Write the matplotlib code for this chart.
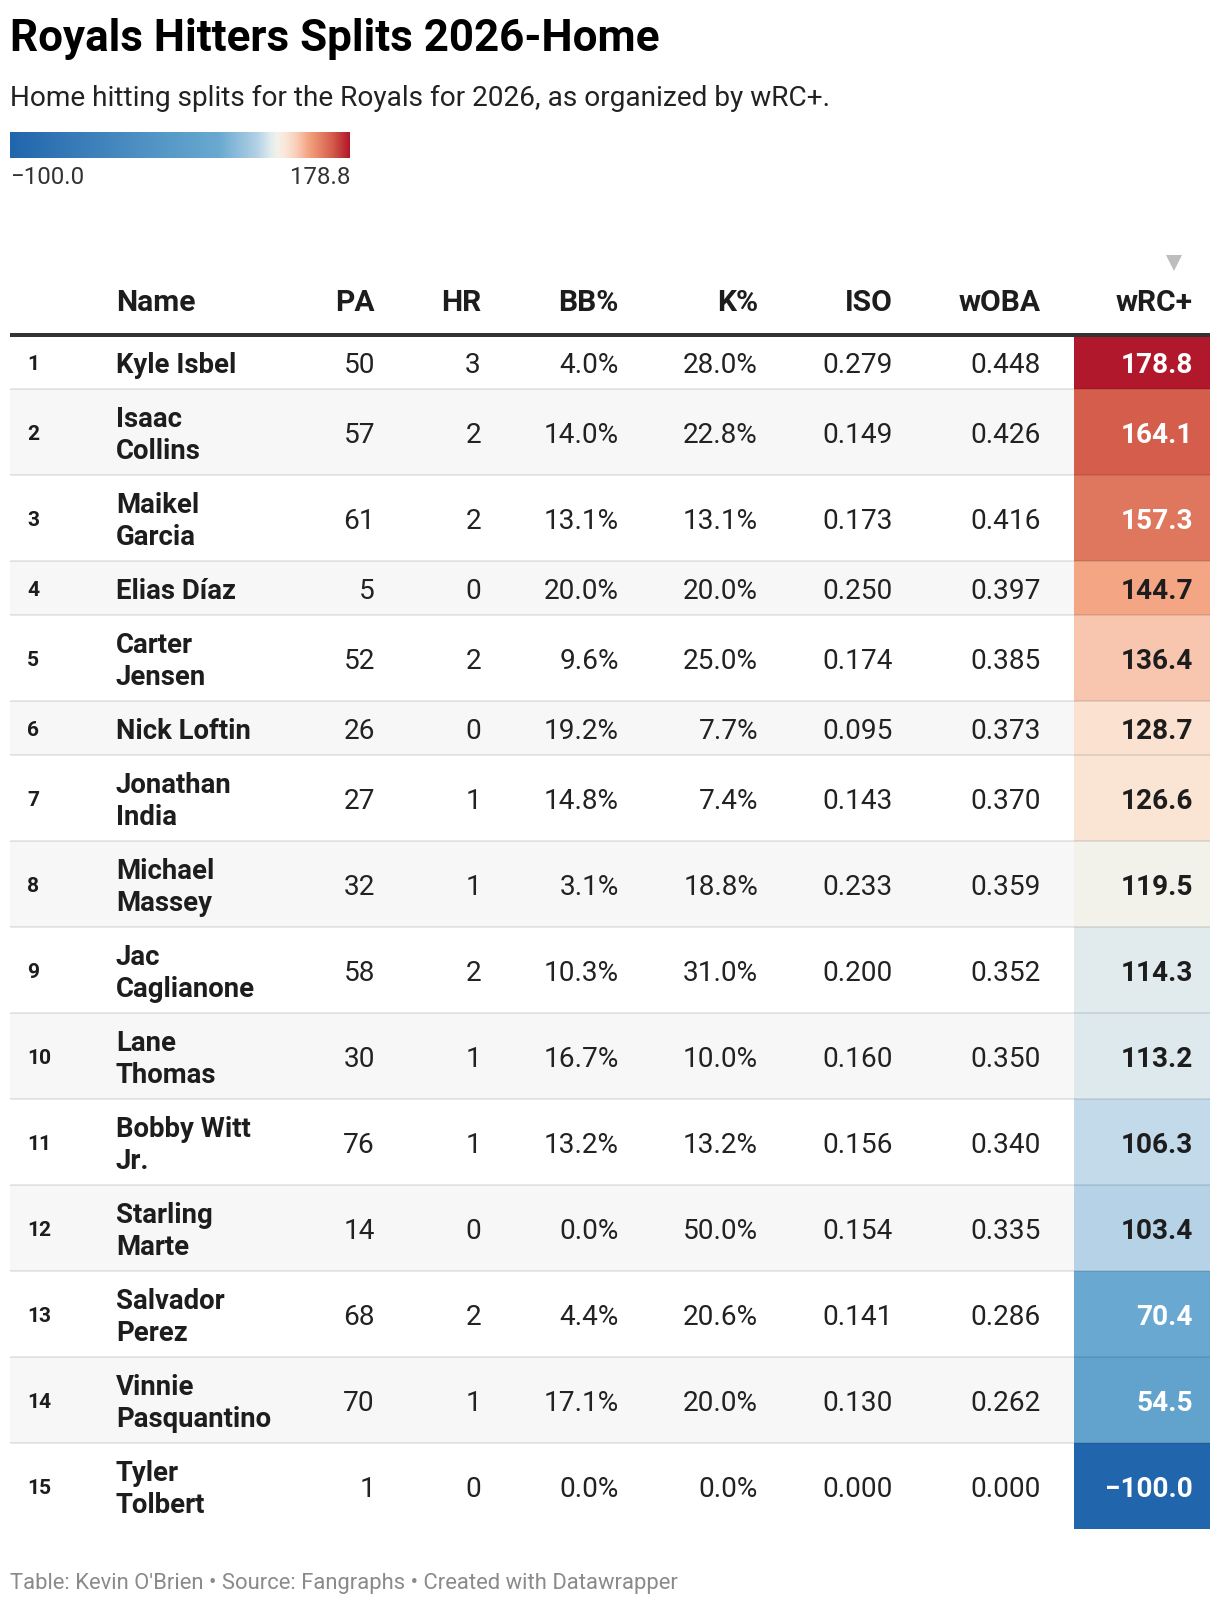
import numpy as np
import matplotlib
matplotlib.use("Agg")
import matplotlib.pyplot as plt
from matplotlib.colors import LinearSegmentedColormap, Normalize, to_rgb

plt.rcParams['font.family'] = ['Roboto', 'DejaVu Sans']

# ---- data ----
names = ["Kyle Isbel", "Isaac\nCollins", "Maikel\nGarcia", "Elias Díaz", "Carter\nJensen",
         "Nick Loftin", "Jonathan\nIndia", "Michael\nMassey", "Jac\nCaglianone", "Lane\nThomas",
         "Bobby Witt\nJr.", "Starling\nMarte", "Salvador\nPerez", "Vinnie\nPasquantino", "Tyler\nTolbert"]
pa = [50, 57, 61, 5, 52, 26, 27, 32, 58, 30, 76, 14, 68, 70, 1]
hr = [3, 2, 2, 0, 2, 0, 1, 1, 2, 1, 1, 0, 2, 1, 0]
bb_pct = [4.0, 14.0, 13.1, 20.0, 9.6, 19.2, 14.8, 3.1, 10.3, 16.7, 13.2, 0.0, 4.4, 17.1, 0.0]
k_pct = [28.0, 22.8, 13.1, 20.0, 25.0, 7.7, 7.4, 18.8, 31.0, 10.0, 13.2, 50.0, 20.6, 20.0, 0.0]
iso = [0.279, 0.149, 0.173, 0.250, 0.174, 0.095, 0.143, 0.233, 0.200, 0.160, 0.156, 0.154, 0.141, 0.130, 0.000]
woba = [0.448, 0.426, 0.416, 0.397, 0.385, 0.373, 0.370, 0.359, 0.352, 0.350, 0.340, 0.335, 0.286, 0.262, 0.000]
wrc = [178.8, 164.1, 157.3, 144.7, 136.4, 128.7, 126.6, 119.5, 114.3, 113.2, 106.3, 103.4, 70.4, 54.5, -100.0]

headers = ["Name", "PA", "HR", "BB%", "K%", "ISO", "wOBA", "wRC+"]

# ---- colour scale (value -> colour stops) ----
vmin, vmax = min(wrc), max(wrc)
stops = [(-100, "#2166ac"), (55, "#62a3cd"), (72, "#6aaad1"), (103, "#b3d1e6"),
         (113, "#dde9ee"), (119.5, "#f3f2eb"), (127, "#fae5d6"), (136, "#f9cbb5"),
         (145, "#f4a582"), (164, "#d6604d"), (178.8, "#b2182b")]
cmap = LinearSegmentedColormap.from_list(
    "wrc", [((v - vmin) / (vmax - vmin), c) for v, c in stops])
norm = Normalize(vmin, vmax)

W, H = 1220, 1606
fig = plt.figure(figsize=(W / 100, H / 100), dpi=100)
ax = fig.add_axes([0, 0, 1, 1])
ax.set_xlim(0, W)
ax.set_ylim(H, 0)
ax.axis("off")

PX = 0.72  # pt per px
dark = "#1d1d1d"

def fmt_minus(s):
    return s.replace("-", "\u2212")

# title, subtitle
ax.text(10, 51, "Royals Hitters Splits 2026-Home", fontsize=44 * PX, fontweight="bold",
        color="#000000", va="baseline")
ax.text(10, 106, "Home hitting splits for the Royals for 2026, as organized by wRC+.",
        fontsize=28 * PX, color="#222222", va="baseline")

# colour legend
grad = np.linspace(vmin, vmax, 512).reshape(1, -1)
ax.imshow(grad, cmap=cmap, norm=norm, extent=(10, 350, 159, 133), aspect="auto")
ax.text(10, 184, fmt_minus(f"{vmin:.1f}"), fontsize=24 * PX, color="#333333", va="baseline")
ax.text(350, 184, f"{vmax:.1f}", fontsize=24 * PX, color="#333333", va="baseline", ha="right")

# columns
rank_x = 27
name_x = 116
right_x = [375, 481, 619, 758, 893, 1041, 1193]
cell_x0, cell_x1 = 1074, 1210
tab_x0, tab_x1 = 10, 1210

# header
hfs = 30
ax.text(name_x, 311, headers[0], fontsize=hfs * PX, fontweight="bold", color=dark, va="baseline")
for h, x in zip(headers[1:], right_x):
    ax.text(x, 311, h, fontsize=hfs * PX, fontweight="bold", color=dark, va="baseline", ha="right")
ax.plot([1174], [264], marker="v", markersize=11.5, color="#bdbdbd", markeredgewidth=0)

# rows
top = 336
single_h, double_h = 54, 86
cap = 0.711
nfs, vfs = 27.5, 28
y = top
for i, nm in enumerate(names):
    lines = nm.split("\n")
    rh = single_h if len(lines) == 1 else double_h
    yc = y + rh / 2
    if i % 2 == 1:
        ax.add_patch(plt.Rectangle((tab_x0, y), tab_x1 - tab_x0, rh, color="#f7f7f7", lw=0, zorder=0))
    col = cmap(norm(wrc[i]))
    ax.add_patch(plt.Rectangle((cell_x0, y), cell_x1 - cell_x0, rh, color=col, lw=0, zorder=1))

    # rank
    ax.text(rank_x, yc + 21 * cap / 2, str(i + 1), fontsize=21 * PX, fontweight="bold",
            color=dark, va="baseline")
    # name lines
    base0 = yc + nfs * cap / 2 - (len(lines) - 1) * 32 / 2
    for k, ln in enumerate(lines):
        ax.text(name_x, base0 + k * 32, ln, fontsize=nfs * PX, fontweight="bold",
                color=dark, va="baseline")
    vals = [str(pa[i]), str(hr[i]), f"{bb_pct[i]:.1f}%", f"{k_pct[i]:.1f}%",
            f"{iso[i]:.3f}", f"{woba[i]:.3f}"]
    for v, x in zip(vals, right_x[:-1]):
        ax.text(x, yc + vfs * cap / 2, v, fontsize=vfs * PX, color="#222222",
                va="baseline", ha="right")
    r, g, b = to_rgb(col)
    lum = 0.2126 * r + 0.7152 * g + 0.0722 * b
    tc = "white" if lum < 0.66 else dark
    ax.text(right_x[-1], yc + vfs * cap / 2, fmt_minus(f"{wrc[i]:.1f}"), fontsize=vfs * PX,
            fontweight="bold", color=tc, va="baseline", ha="right", zorder=3)
    y += rh
    if i < len(names) - 1:
        ax.plot([tab_x0, tab_x1], [y, y], color=(0, 0, 0, 0.09), lw=2 * PX, zorder=2,
                solid_capstyle="butt")

# header rule
ax.plot([tab_x0, tab_x1], [top, top], color="#333333", lw=4 * PX, zorder=4, solid_capstyle="butt")

# footer
ax.text(10, 1589, "Table: Kevin O'Brien \u2022 Source: Fangraphs \u2022 Created with Datawrapper",
        fontsize=22 * PX, color="#8a8a8a", va="baseline")

fig.savefig("out.png", dpi=100, facecolor="white")
